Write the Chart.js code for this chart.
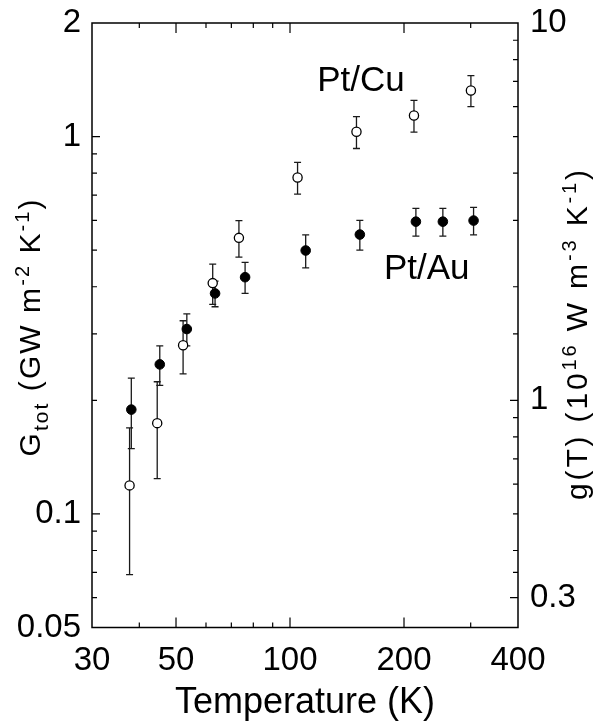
<!DOCTYPE html>
<html>
<head>
<meta charset="utf-8">
<script src="https://cdn.jsdelivr.net/npm/chart.js@4.4.1/dist/chart.umd.min.js"></script>
<style>
    html, body { margin: 0; padding: 0; background: #fff; }
    #wrap { width: 600px; height: 727px; }
</style>
</head>
<body>
<div id="wrap"><canvas id="chart" width="600" height="727"></canvas></div>
<script>
// Pt/Cu (open circles)
const tempCu = [37.7, 44.6, 52.2, 62.5, 73.3, 104.7, 149.8, 212.5, 300.4];
const gCu    = [0.119, 0.174, 0.280, 0.409, 0.539, 0.779, 1.03, 1.137, 1.325];
const errCu  = [0.05, 0.05, 0.045, 0.05, 0.06, 0.075, 0.10, 0.11, 0.125];

// Pt/Au (filled circles)
const tempAu = [38.1, 45.3, 53.4, 63.4, 76.1, 110.0, 152.9, 215.0, 253.3, 305.3];
const gAu    = [0.189, 0.249, 0.309, 0.384, 0.424, 0.499, 0.550, 0.595, 0.595, 0.599];
const errAu  = [0.04, 0.03, 0.03, 0.03, 0.04, 0.05, 0.05, 0.05, 0.05, 0.05];

// tick labels
const xLabels  = [30, 50, 100, 200, 400];
const yLabels  = [0.05, 0.1, 1, 2];
const y2Labels = [0.3, 1, 10];

// tick marks (long / short)
const xMajor  = [50, 100, 200];
const xMinor  = [40, 60, 70, 80, 90, 300];
const yMajor  = [0.1, 1];
const yMinor  = [0.06, 0.07, 0.08, 0.09, 0.2, 0.3, 0.4, 0.5, 0.6, 0.7, 0.8, 0.9];
const y2Major = [0.3, 1];
const y2Minor = [0.35, 0.4, 0.5, 0.6, 0.7, 0.8, 0.9, 1.5, 2, 3, 4, 5, 6, 7, 8, 9];

const FONT = '"Liberation Sans", Arial, Helvetica, sans-serif';
Chart.defaults.font.family = FONT;
Chart.defaults.color = '#000';

// rotated title built from pieces (text, size, baseline shift), spread to a given length
function richText(ctx, parts, cx, cy, length) {
    ctx.save();
    ctx.translate(cx, cy);
    ctx.rotate(-Math.PI / 2);
    ctx.fillStyle = '#000';
    ctx.textBaseline = 'alphabetic';
    ctx.textAlign = 'left';
    const glyphs = [];
    let natural = 0;
    parts.forEach(p => {
        ctx.font = p[1] + 'px ' + FONT;
        for (const ch of p[0]) {
            const w = ctx.measureText(ch).width;
            glyphs.push([ch, p[1], p[2], w]);
            natural += w;
        }
    });
    const gap = (length - natural) / (glyphs.length - 1);
    let pos = -length / 2;
    glyphs.forEach(g => {
        ctx.font = g[1] + 'px ' + FONT;
        ctx.fillText(g[0], pos, g[2]);
        pos += g[3] + gap;
    });
    ctx.restore();
}

const errorBars = {
    id: 'errorBars',
    beforeDatasetsDraw(chart) {
        const { ctx, scales: { x, y } } = chart;
        ctx.save();
        ctx.strokeStyle = '#1a1a1a';
        ctx.lineWidth = 1.3;
        chart.data.datasets.forEach(ds => {
            ds.data.forEach((p, i) => {
                const px = x.getPixelForValue(p.x);
                const top = y.getPixelForValue(p.y + ds.err[i]);
                const bot = y.getPixelForValue(p.y - ds.err[i]);
                ctx.beginPath();
                ctx.moveTo(px, top); ctx.lineTo(px, bot);
                ctx.moveTo(px - 3.5, top); ctx.lineTo(px + 3.5, top);
                ctx.moveTo(px - 3.5, bot); ctx.lineTo(px + 3.5, bot);
                ctx.stroke();
            });
        });
        ctx.restore();
    }
};

const frame = {
    id: 'frame',
    afterDraw(chart) {
        const { ctx, chartArea: a, scales: { x, y, y2 } } = chart;
        ctx.save();
        ctx.strokeStyle = '#000';
        ctx.lineWidth = 1.5;
        ctx.strokeRect(a.left, a.top, a.right - a.left, a.bottom - a.top);

        ctx.lineWidth = 1.2;
        ctx.beginPath();
        const xt = (vals, len) => vals.forEach(v => {
            const px = x.getPixelForValue(v);
            ctx.moveTo(px, a.bottom); ctx.lineTo(px, a.bottom - len);
            ctx.moveTo(px, a.top); ctx.lineTo(px, a.top + len);
        });
        xt(xMajor, 10); xt(xMinor, 5);
        const yt = (scale, vals, len, left) => vals.forEach(v => {
            const py = scale.getPixelForValue(v);
            if (left) { ctx.moveTo(a.left, py); ctx.lineTo(a.left + len, py); }
            else { ctx.moveTo(a.right, py); ctx.lineTo(a.right - len, py); }
        });
        yt(y, yMajor, 8, true); yt(y, yMinor, 5, true);
        yt(y2, y2Major, 8, false); yt(y2, y2Minor, 5, false);
        ctx.stroke();

        // series labels
        ctx.fillStyle = '#000';
        ctx.font = '35px ' + FONT;
        ctx.textAlign = 'left';
        ctx.textBaseline = 'alphabetic';
        ctx.fillText('Pt/Cu', x.getPixelForValue(118), y.getPixelForValue(1.317));
        ctx.fillText('Pt/Au', x.getPixelForValue(177), y.getPixelForValue(0.419));

        // axis titles
        ctx.textAlign = 'center';
        ctx.font = '36px ' + FONT;
        ctx.fillText('Temperature (K)', (a.left + a.right) / 2, 713);

        richText(ctx, [
            ['G', 30, 0], ['tot', 21, 8], [' (GW m', 30, 0], ['-2', 20, -11],
            [' K', 30, 0], ['-1', 20, -11], [')', 30, 0]
        ], 40, 328, 257);

        richText(ctx, [
            ['g(T) (10', 30, 0], ['16', 20, -11], [' W m', 30, 0], ['-3', 20, -11],
            [' K', 30, 0], ['-1', 20, -11], [')', 30, 0]
        ], 587, 335, 330);
        ctx.restore();
    }
};

const noGrid = { display: false, drawTicks: false };
const vFit = w => s => { s.width = w; s.paddingTop = 0; s.paddingBottom = 0; };

new Chart(document.getElementById('chart'), {
    type: 'scatter',
    data: {
        datasets: [
            {
                label: 'Pt/Cu',
                data: tempCu.map((t, i) => ({ x: t, y: gCu[i] })),
                err: errCu,
                pointRadius: 4.6,
                pointBackgroundColor: '#fff',
                pointBorderColor: '#000',
                pointBorderWidth: 1.3
            },
            {
                label: 'Pt/Au',
                data: tempAu.map((t, i) => ({ x: t, y: gAu[i] })),
                err: errAu,
                pointRadius: 4.8,
                pointBackgroundColor: '#000',
                pointBorderColor: '#000',
                pointBorderWidth: 1
            }
        ]
    },
    options: {
        responsive: false,
        animation: false,
        layout: { padding: { top: 23, left: 0, right: 0, bottom: 0 } },
        plugins: { legend: { display: false }, tooltip: { enabled: false } },
        scales: {
            x: {
                type: 'logarithmic', position: 'bottom', min: 30, max: 400,
                grid: noGrid, border: { display: false },
                afterBuildTicks: s => { s.ticks = xLabels.map(v => ({ value: v })); },
                afterFit: s => { s.height = 99.5; s.paddingLeft = 0; s.paddingRight = 0; },
                ticks: { autoSkip: false, maxRotation: 0, padding: 14, font: { size: 33 },
                         callback: v => String(v) }
            },
            y: {
                type: 'logarithmic', position: 'left', min: 0.05, max: 2,
                grid: noGrid, border: { display: false },
                afterBuildTicks: s => { s.ticks = yLabels.map(v => ({ value: v })); },
                afterFit: vFit(92),
                ticks: { autoSkip: false, padding: 11, font: { size: 33 },
                         callback: v => String(v) }
            },
            y2: {
                type: 'logarithmic', position: 'right', min: 0.25, max: 10,
                grid: noGrid, border: { display: false },
                afterBuildTicks: s => { s.ticks = y2Labels.map(v => ({ value: v })); },
                afterFit: vFit(82),
                ticks: { autoSkip: false, padding: 12, font: { size: 33 },
                         callback: v => String(v) }
            }
        }
    },
    plugins: [errorBars, frame]
});
</script>
</body>
</html>
